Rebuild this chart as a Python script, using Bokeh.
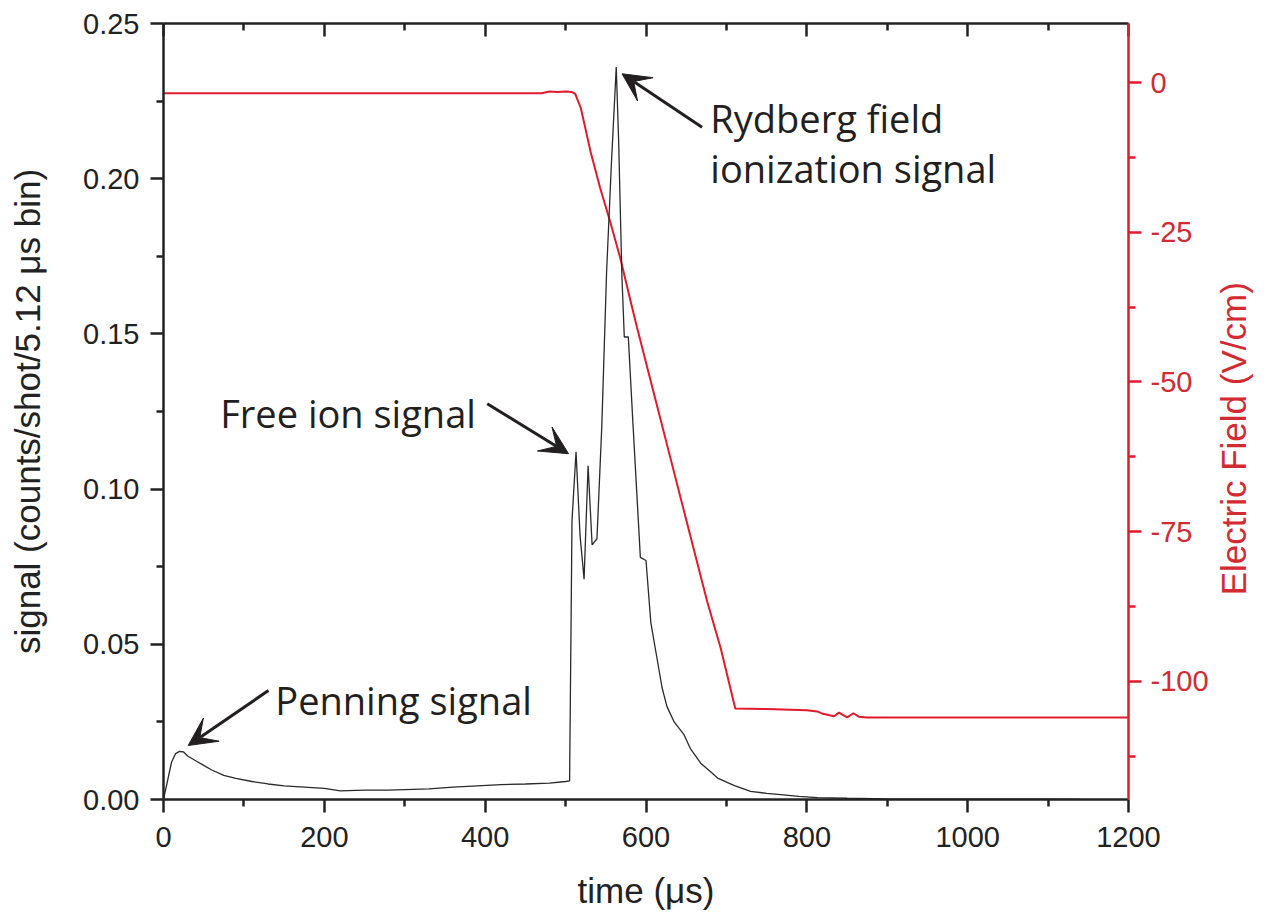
from math import pi
from bokeh.plotting import figure
from bokeh.models import (Range1d, LinearAxis, FixedTicker, NumeralTickFormatter,
                          Label, Arrow, VeeHead)
from bokeh.embed import file_html
from bokeh.resources import INLINE

# ---------------- data ----------------
sig_t = [0, 5, 10, 15, 20, 25, 30, 40, 50, 60, 75, 90, 110, 130, 150, 175, 200, 220,
         250, 280, 300, 330, 360, 390, 420, 450, 480, 500, 505,
         508, 513, 518, 523, 528, 533, 539, 545, 551, 557, 563, 566, 570, 573, 578,
         584, 593, 600, 606, 612, 620, 626, 635, 647, 655, 668, 680, 689, 710, 730,
         750, 771, 790, 813, 850, 900, 1000, 1100, 1140]
sig_v = [0.000, 0.006, 0.012, 0.0148, 0.0155, 0.0153, 0.0140, 0.0125, 0.0110, 0.0095,
         0.0078, 0.0068, 0.0058, 0.0050, 0.0044, 0.0040, 0.0036, 0.0028,
         0.0030, 0.0030, 0.0032, 0.0034, 0.0040, 0.0044, 0.0048, 0.0050, 0.0053, 0.0058, 0.0060,
         0.090, 0.112, 0.085, 0.071, 0.1075, 0.082, 0.084, 0.120, 0.170, 0.205, 0.236,
         0.212, 0.169, 0.149, 0.149,
         0.120, 0.078, 0.077, 0.057, 0.048, 0.036, 0.030, 0.025, 0.021, 0.0165, 0.0117,
         0.009, 0.0069, 0.0045, 0.0026,
         0.0020, 0.0015, 0.0010, 0.0006, 0.0004, 0.0002, 0.0001, 0.0001, 0.0000]

field_t = [0, 100, 200, 300, 400, 470, 480, 490, 500, 508, 512, 519, 531, 543, 556, 568,
           581, 589, 610, 630, 650, 676, 693, 702, 711, 750, 780, 800, 813, 820, 834,
           840, 850, 858, 865, 875, 900, 1000, 1100, 1200]
field_v = [-1.8, -1.8, -1.8, -1.8, -1.8, -1.8, -1.5, -1.6, -1.5, -1.6, -1.9, -4.3, -11.5,
           -17.6, -23.5, -29.3, -36.6, -41.0, -52.0, -62.5, -73.0, -86.6, -94.5, -99.5,
           -104.5, -104.6, -104.7, -104.8, -105.0, -105.4, -105.8, -105.2, -106.0,
           -105.3, -105.9, -106.0, -106.0, -106.0, -106.0, -106.0]

x_ticks = [0, 200, 400, 600, 800, 1000, 1200]
x_minor = [100, 300, 500, 700, 900, 1100]
y_ticks = [0.00, 0.05, 0.10, 0.15, 0.20, 0.25]
y_minor = [0.025, 0.075, 0.125, 0.175, 0.225]
f_ticks = [0, -25, -50, -75, -100]
f_minor = [-12.5, -37.5, -62.5, -87.5, -112.5]

# annotation texts and positions
notes = ["Penning signal", "Free ion signal", "Rydberg field", "ionization signal"]
note_x = [139, 70.5, 680, 680]
note_y = [0.0322, 0.1244, 0.2197, 0.2036]
arrow_x0 = [130.5, 402.6, 669.7]
arrow_y0 = [0.0351, 0.1275, 0.2166]
arrow_x1 = [30.7, 503.7, 570.2]
arrow_y1 = [0.0174, 0.1114, 0.2338]

RED = "#e21b2c"
RED_TXT = "#d42a32"
BLACK = "#222222"

p = figure(frame_width=965, frame_height=776, min_border_left=163, min_border_top=23,
           min_border_right=134, min_border_bottom=112,
           x_range=Range1d(0, 1200), y_range=Range1d(0, 0.25),
           output_backend="svg", toolbar_location=None, x_axis_location=None,
           y_axis_location=None)
p.extra_y_ranges = {"field": Range1d(-119.7, 9.85)}
p.grid.visible = False
p.outline_line_color = None
p.background_fill_color = "white"
p.border_fill_color = "white"

TICK_FONT = "Liberation Sans"


def style(ax, color=BLACK):
    ax.axis_line_color = color
    ax.axis_line_width = 2.5
    ax.major_tick_line_color = color
    ax.minor_tick_line_color = color
    ax.major_tick_line_width = 2.5
    ax.minor_tick_line_width = 2.5
    ax.major_tick_out = 13
    ax.major_tick_in = 0
    ax.minor_tick_out = 7
    ax.minor_tick_in = 0
    ax.major_label_text_font = TICK_FONT
    ax.major_label_text_font_size = "29px"
    ax.major_label_text_color = color
    ax.axis_label_text_font = TICK_FONT
    ax.axis_label_text_font_size = "35px"
    ax.axis_label_text_font_style = "normal"
    ax.axis_label_text_color = color


xb = LinearAxis(ticker=FixedTicker(ticks=x_ticks, minor_ticks=x_minor), axis_label="time (μs)",
                formatter=NumeralTickFormatter(format="0"))
style(xb)
xb.major_label_standoff = 14
xb.axis_label_standoff = 21
p.add_layout(xb, "below")

xt = LinearAxis(ticker=FixedTicker(ticks=x_ticks, minor_ticks=x_minor))
style(xt)
xt.major_tick_out = 0
xt.major_tick_in = 13
xt.minor_tick_out = 0
xt.minor_tick_in = 7
xt.major_label_text_font_size = "0px"
xt.major_label_text_color = None
xt.major_label_standoff = 0
p.add_layout(xt, "above")

yl = LinearAxis(ticker=FixedTicker(ticks=y_ticks, minor_ticks=y_minor),
                axis_label="signal (counts/shot/5.12 μs bin)",
                formatter=NumeralTickFormatter(format="0.00"))
style(yl)
yl.major_label_standoff = 11
yl.axis_label_standoff = 33
p.add_layout(yl, "left")

# red right axis with its title reading bottom-to-top, as in the original
title_r = "Electric Field (V/cm)"
yr = LinearAxis(y_range_name="field", ticker=FixedTicker(ticks=f_ticks, minor_ticks=f_minor),
                formatter=NumeralTickFormatter(format="0"))
style(yr, color=RED)
yr.major_label_text_color = RED_TXT
yr.axis_label_text_color = RED_TXT
yr.major_label_standoff = 9
yr.axis_label_standoff = 22
props = LinearAxis.properties()
if "axis_label_orientation" in props and "axis_label_align" in props:
    yr.axis_label_orientation = pi / 2
    yr.axis_label_align = "start"
    # lift the start of the title off the bottom of the axis so that it sits
    # where the original's title is
    yr.axis_label = "\u00a0" * 21 + title_r
else:
    yr.axis_label = title_r
p.add_layout(yr, "right")

p.line(field_t, field_v, y_range_name="field", line_color=RED, line_width=2)
p.line(sig_t, sig_v, line_color="#2a2a2a", line_width=1.3)

for txt, x, y in zip(notes, note_x, note_y):
    p.add_layout(Label(x=x, y=y, text=txt, text_font="Open Sans", text_font_size="38px",
                       text_color="#231f20", text_baseline="alphabetic", text_align="left"))

for x0, y0, x1, y1 in zip(arrow_x0, arrow_y0, arrow_x1, arrow_y1):
    p.add_layout(Arrow(x_start=x0, y_start=y0, x_end=x1, y_end=y1, line_width=3,
                       line_color="#231f20",
                       end=VeeHead(size=28, fill_color="#231f20", line_color="#231f20",
                                   line_width=1)))

open("out.html", "w").write(file_html(p, INLINE))
